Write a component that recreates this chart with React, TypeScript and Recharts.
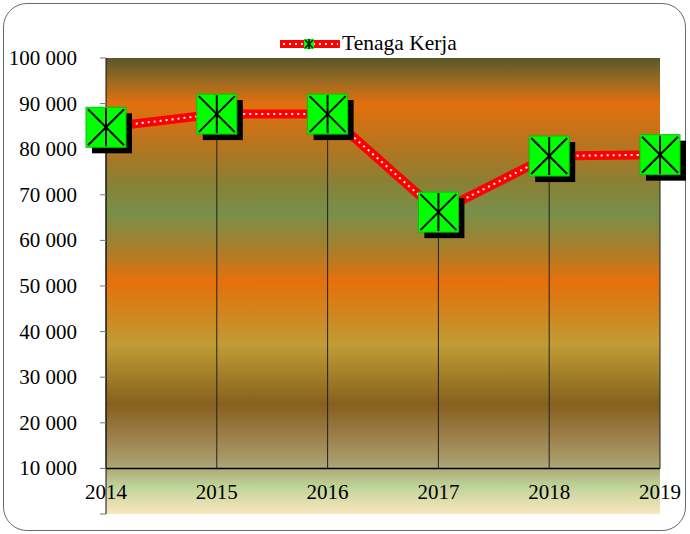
import React from 'react'
import {
  LineChart,
  Line,
  XAxis,
  YAxis,
  CartesianGrid,
  ReferenceLine,
  Legend
} from 'recharts'

const years = ['2014', '2015', '2016', '2017', '2018', '2019']
const tenagaKerja = [84800, 87700, 87700, 66200, 78500, 78800]
const yTicks = [0, 10000, 20000, 30000, 40000, 50000, 60000, 70000, 80000, 90000, 100000]
const xAxisLevel = 10000
const seriesName = 'Tenaga Kerja'

const data = years.map((year, i) => ({ year, value: tenagaKerja[i] }))

const FONT = 'Liberation Serif'

const formatTick = (v: number) =>
  v === 0 ? '' : String(v).replace(/\B(?=(\d{3})+(?!\d))/g, ' ')

function Marker(props: any) {
  const { cx, cy, index } = props
  if (cx == null || cy == null) return null
  const s = 20
  return (
    <g key={`m-${index}`}>
      <rect x={cx - s + 6} y={cy - s + 6} width={2 * s} height={2 * s} fill="#000" />
      <rect x={cx - s} y={cy - s} width={2 * s} height={2 * s} fill="#00ff00" stroke="#00c800" strokeWidth={1} />
      <line x1={cx - s + 2} y1={cy - s + 2} x2={cx + s - 2} y2={cy + s - 2} stroke="#000" strokeWidth={2} />
      <line x1={cx + s - 2} y1={cy - s + 2} x2={cx - s + 2} y2={cy + s - 2} stroke="#000" strokeWidth={2} />
      <line x1={cx} y1={cy - s + 1} x2={cx} y2={cy + s - 1} stroke="#000" strokeWidth={2} />
    </g>
  )
}

function XTick(props: any) {
  const { x, payload } = props
  return (
    <text x={x} y={499} textAnchor="middle" fontSize={21} fontFamily={FONT} fill="#000">
      {payload.value}
    </text>
  )
}

function YTick(props: any) {
  const { x, y, payload } = props
  return (
    <text x={x - 2} y={y} dy={7} textAnchor="end" fontSize={21} fontFamily={FONT} fill="#000">
      {formatTick(payload.value)}
    </text>
  )
}

function renderLegend() {
  return (
    <div style={{ display: 'flex', alignItems: 'center', fontFamily: FONT, fontSize: 21.5 }}>
      <svg width={60} height={14}>
        <line x1={1} y1={7} x2={58} y2={7} stroke="#ff0000" strokeWidth={8} strokeLinecap="round" />
        <line x1={3} y1={7} x2={58} y2={7} stroke="#fff" strokeWidth={2} strokeDasharray="2 4" />
        <rect x={24} y={2} width={10} height={10} fill="#00ff00" />
        <line x1={25} y1={3} x2={33} y2={11} stroke="#000" strokeWidth={1.5} />
        <line x1={33} y1={3} x2={25} y2={11} stroke="#000" strokeWidth={1.5} />
        <line x1={29} y1={2} x2={29} y2={12} stroke="#000" strokeWidth={1.5} />
      </svg>
      <span style={{ marginLeft: 2 }}>{seriesName}</span>
    </div>
  )
}

export default function App() {
  return (
    <div style={{ position: 'absolute', left: 0, top: 0, width: 690, height: 534, background: '#fff', fontFamily: FONT }}>
      <div
        style={{
          position: 'absolute',
          left: 3,
          top: 3,
          width: 681,
          height: 526,
          border: '1.5px solid #6a6a6a',
          borderRadius: 24
        }}
      />
      <LineChart
        width={690}
        height={534}
        data={data}
        margin={{ top: 58, right: 30, bottom: 0, left: 6 }}
        style={{ position: 'absolute', left: 0, top: 0, fontFamily: FONT }}
      >
        <defs>
          <linearGradient id="bg" x1="0" y1="0" x2="0" y2="1">
            <stop offset="0" stopColor="#58582a" />
            <stop offset="0.05" stopColor="#9a6a22" />
            <stop offset="0.1" stopColor="#e2700e" />
            <stop offset="0.19" stopColor="#b8741e" />
            <stop offset="0.27" stopColor="#8a8034" />
            <stop offset="0.34" stopColor="#78904a" />
            <stop offset="0.42" stopColor="#a87e2a" />
            <stop offset="0.49" stopColor="#e6700c" />
            <stop offset="0.56" stopColor="#d0861e" />
            <stop offset="0.63" stopColor="#c09c36" />
            <stop offset="0.7" stopColor="#a07c28" />
            <stop offset="0.76" stopColor="#86601e" />
            <stop offset="0.84" stopColor="#a08450" />
            <stop offset="0.89" stopColor="#aaa070" />
            <stop offset="0.94" stopColor="#c0d498" />
            <stop offset="1" stopColor="#fbe6c0" />
          </linearGradient>
        </defs>
        <CartesianGrid horizontal={false} vertical={false} fill="url(#bg)" />
        <XAxis
          dataKey="year"
          height={20}
          axisLine={false}
          tickLine={false}
          tick={<XTick />}
          interval={0}
        />
        <YAxis
          width={100}
          domain={[0, 100000]}
          ticks={yTicks}
          tickSize={6}
          tickMargin={21}
          tick={<YTick />}
          axisLine={{ stroke: '#111', strokeWidth: 1 }}
          tickLine={{ stroke: '#777' }}
          interval={0}
        />
        <ReferenceLine y={xAxisLevel} stroke="#000" strokeWidth={1.5} />
        {data.map(d => (
          <ReferenceLine
            key={d.year}
            segment={[{ x: d.year, y: d.value }, { x: d.year, y: xAxisLevel }]}
            stroke="#222"
            strokeWidth={1}
          />
        ))}
        <Line
          dataKey="value"
          name={seriesName}
          stroke="#ff0000"
          strokeWidth={9}
          dot={false}
          activeDot={false}
          isAnimationActive={false}
        />
        <Line
          dataKey="value"
          legendType="none"
          stroke="#ffffff"
          strokeWidth={2}
          strokeDasharray="2 4"
          dot={<Marker />}
          activeDot={false}
          isAnimationActive={false}
        />
        <Legend
          verticalAlign="middle"
          layout="horizontal"
          wrapperStyle={{ top: 31, left: 280, width: 240 }}
          content={renderLegend}
        />
      </LineChart>
    </div>
  )
}
